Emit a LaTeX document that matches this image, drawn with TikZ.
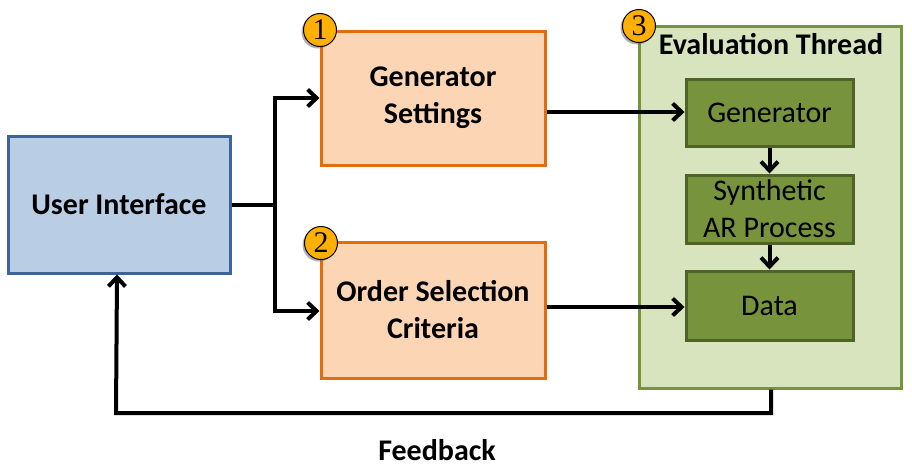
\documentclass[tikz,border=0pt]{standalone}
\usepackage{fontspec}
\setmainfont{Carlito}
\newfontfamily\badgefont{Liberation Serif}
\usetikzlibrary{arrows.meta,shadows}
\definecolor{uifill}{HTML}{B9CDE5}
\definecolor{uidraw}{HTML}{3C6494}
\definecolor{orfill}{HTML}{FCD5B5}
\definecolor{ordraw}{HTML}{E46C0A}
\definecolor{evfill}{HTML}{D7E4BD}
\definecolor{evdraw}{HTML}{77933C}
\definecolor{gnfill}{HTML}{77933C}
\definecolor{gndraw}{HTML}{4F6228}
\definecolor{badgefill}{HTML}{FFB000}
\tikzset{
  box/.style={draw, line width=3pt, inner sep=0pt, align=center},
  uibox/.style={box, fill=uifill, draw=uidraw, font=\bfseries\fontsize{30}{36}\selectfont},
  orbox/.style={box, fill=orfill, draw=ordraw, font=\bfseries\fontsize{30}{37}\selectfont},
  evbox/.style={box, fill=evfill, draw=evdraw},
  gnbox/.style={box, fill=gnfill, draw=gndraw, font=\fontsize{30}{37}\selectfont},
  badge/.style={circle, draw=black, line width=1pt, fill=badgefill, minimum size=33pt, inner sep=0pt,
     font=\badgefont\fontsize{30}{30}\selectfont, drop shadow={shadow xshift=-2pt, shadow yshift=-2pt, fill=black!60}},
  conn/.style={line width=4pt, -{Straight Barb[length=9pt,width=17pt,line width=4pt]}},
  plain/.style={line width=4pt}
}
\begin{document}
\begin{tikzpicture}[x=1pt,y=-1pt]
\useasboundingbox (0,0) rectangle (912,469);
% boxes
\node[uibox, minimum width=222pt, minimum height=137pt] (ui) at (119,204.5) {User Interface};
\node[orbox, minimum width=224pt, minimum height=134pt] (gs) at (433,98) {Generator\\Settings};
\node[orbox, minimum width=224pt, minimum height=136pt] (os) at (433,310) {Order Selection\\Criteria};
\node[evbox, minimum width=262pt, minimum height=362pt] (ev) at (770,207) {};
\node[font=\bfseries\fontsize{30}{36}\selectfont, anchor=north] (evt) at (771,30) {Evaluation Thread};
\node[gnbox, minimum width=167pt, minimum height=67pt] (gen) at (769.5,112.5) {Generator};
\node[gnbox, minimum width=167pt, minimum height=68pt] (syn) at (769.5,209) {Synthetic\\AR Process};
\node[gnbox, minimum width=167pt, minimum height=69pt] (dat) at (769.5,305.5) {Data};
% badges
\node[badge] (b1) at (320,30) {1};
\node[badge] (b2) at (321,243) {2};
\node[badge] (b3) at (639,26) {3};
% connectors
\coordinate (j) at (275,205);
\draw[plain] (ui.east |- j) -- (j);
\draw[conn] (j) |- (gs.west |- 0,98);
\draw[conn] (j) |- (os.west |- 0,311);
\draw[conn] (gs.east |- 0,112) -- (gen.west |- 0,112);
\draw[conn] (os.east |- 0,307) -- (dat.west |- 0,307);
\draw[conn] (gen.south) -- (syn.north);
\draw[conn] (syn.south) -- (dat.north);
\coordinate (fb) at (771,413);
\draw[conn] (ev.south -| fb) -- (fb) -- (116,413) -- (ui.south -| 117,0);
\node[font=\bfseries\fontsize{30}{36}\selectfont] (fbl) at (437,450) {Feedback};
\end{tikzpicture}
\end{document}
